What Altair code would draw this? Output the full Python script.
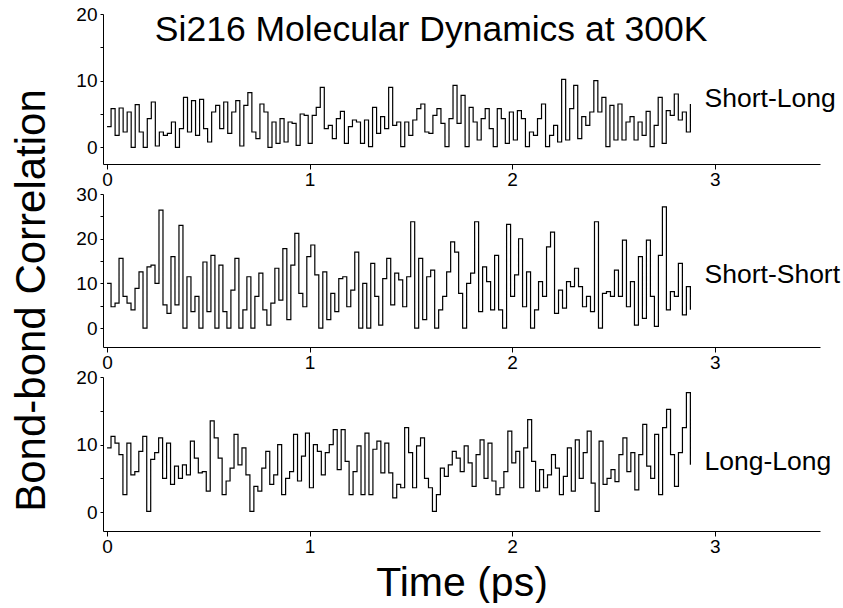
import altair as alt
import numpy as np
import pandas as pd

# ---------------- data ----------------
short_long = [3.1, 5.8, 1.8, 5.9, 2.3, 5.3, 0.0, 6.4, 2.3, 0.0, 4.3, 6.8, 0.2, 2.3, 1.8, 2.1, 3.8, 0.0, 2.8, 7.5,
              2.3, 7.0, 1.8, 7.2, 2.8, 0.8, 5.3, 6.3, 2.8, 6.8, 2.1, 5.3, 7.0, 0.2, 6.3, 8.2, 2.3,
              1.3, 6.5, 5.3, 0.0, 3.8, 0.6, 4.3, 0.8, 3.8, 3.6, 0.3, 5.0, 4.8, 0.6, 4.8, 6.0, 9.0, 2.8, 3.3, 1.3,
              4.3, 5.4, 0.6, 3.1, 4.1, 3.8, 0.6, 4.1, 0.1, 6.0, 2.1, 4.6, 2.8, 9.0, 3.3, 3.8,
              0.1, 3.8, 1.8, 4.1, 5.8, 6.5, 2.3, 2.1, 4.8, 5.8, 3.6, 0.1, 4.3, 9.3, 3.6, 7.8, 0.1, 6.0, 3.8, 1.1,
              4.3, 5.8, 2.8, 0.1, 5.8, 4.3, 0.6, 5.3, 1.1, 5.5, 4.3, 0.1, 2.3, 1.8, 4.3, 6.5, 0.1,
              1.8, 3.3, 0.8, 10.2, 1.1, 5.8, 9.3, 1.3, 4.6, 3.3, 5.3, 10.0, 5.3, 7.5, 0.1, 6.3, 1.1, 6.5, 1.1, 3.8,
              4.6, 1.1, 3.8, 1.8, 5.4, 0.1, 3.3, 7.5, 0.6, 5.5, 4.8, 8.0, 4.1, 5.3, 2.3, 6.5]

short_short = [10.0, 4.8, 5.6, 15.6, 7.1, 5.6, 4.1, 8.9, 12.6, 0.0, 13.7, 14.1, 10.0, 26.4, 5.2, 3.3, 16.0, 5.2, 23.0, 0.0,
               11.5, 3.7, 7.1, 0.0, 14.8, 3.7, 16.3, 0.0, 14.1, 3.7, 0.0, 8.5, 15.6, 0.0, 4.1, 11.5, 0.0, 7.1,
               12.3, 4.1, 0.7, 5.6, 13.4, 6.3, 17.8, 1.9, 14.1, 21.2, 7.8, 4.8, 16.0, 18.6, 11.9, 0.0, 12.6, 1.9,
               7.8, 3.7, 11.1, 11.5, 4.8, 8.5, 17.0, 0.0, 10.0, 0.0, 14.5, 7.1, 0.7, 11.1, 15.6, 5.2, 12.3, 10.8,
               4.8, 11.5, 23.8, 0.0, 15.6, 1.9, 11.5, 13.0, 0.0, 4.1, 7.1, 12.6, 19.3, 17.0, 7.8, 0.0, 10.0, 12.3,
               23.8, 3.7, 13.7, 10.4, 4.1, 16.3, 4.1, 0.0, 23.2, 7.1, 11.9, 20.0, 4.8, 12.6, 0.0, 4.1, 10.4, 7.1, 18.2,
               21.5, 3.3, 8.5, 4.5, 10.4, 9.3, 13.4, 9.3, 4.8, 7.1, 3.7, 23.8, 0.0, 7.8, 8.2, 7.1, 13.0, 7.1, 19.7,
               4.8, 10.4, 0.7, 16.0, 2.2, 19.7, 7.1, 0.4, 16.3, 27.1, 4.1, 8.2, 7.1, 14.5, 3.0, 9.3, 4.1]

long_long = [9.5, 11.2, 10.2, 8.5, 2.6, 10.2, 5.5, 6.0, 9.0, 11.2, 0.1, 7.8, 8.8, 11.0, 5.0, 10.2, 4.1, 6.8, 5.0, 7.0,
             5.5, 10.5, 8.0, 5.8, 6.0, 3.1, 13.5, 11.0, 8.0, 2.6, 4.6, 6.5, 11.5, 7.0, 9.5, 5.5, 0.1, 3.8,
             3.1, 6.5, 9.0, 4.1, 5.5, 10.0, 2.6, 5.0, 6.0, 11.5, 4.6, 8.3, 11.7, 3.6, 10.0, 9.0, 5.5, 8.8, 10.0,
             12.2, 6.3, 12.2, 7.5, 2.6, 6.0, 9.8, 2.6, 11.7, 2.6, 9.3, 10.5, 5.8, 10.2, 5.8, 2.1, 4.1,
             3.6, 12.5, 8.8, 3.6, 9.8, 11.0, 5.0, 3.6, 0.1, 2.6, 6.5, 5.3, 7.0, 9.0, 8.0, 6.0, 9.8, 7.3, 3.8,
             8.5, 10.7, 5.0, 10.2, 4.6, 2.6, 3.6, 6.0, 12.0, 7.3, 9.0, 3.6, 9.5, 13.7, 7.5, 3.1, 6.3, 3.6,
             5.5, 8.5, 6.5, 2.6, 5.3, 9.5, 3.1, 10.7, 5.0, 8.8, 12.0, 4.3, 0.1, 10.5, 4.1, 5.0, 6.3, 4.5, 8.5,
             11.0, 6.0, 8.8, 3.3, 8.5, 13.0, 6.8, 5.0, 11.5, 2.6, 12.5, 15.2, 8.5, 3.8, 8.8, 12.5, 17.7, 7.0]

panel_labels = ["Short-Long", "Short-Short", "Long-Long"]
chart_title = "Si216 Molecular Dynamics at 300K"
x_title = "Time (ps)"
y_title = "Bond-bond Correlation"
x_ticks = [0, 1, 2, 3]
t_end = 2.88  # ps, last sample time

# ---------------- styling ----------------
FONT = "Liberation Sans"
X_DOMAIN = [-0.02, 3.52]
W = 717
MAJOR_ONLY = "datum.value % 10 == 0 ? datum.label : ''"


def make_panel(values, label, label_v, y_domain, y_ticks, height,
               y_axis_title=None, x_axis_title=None, title_text=None):
    df = pd.DataFrame({"t": np.linspace(0, t_end, len(values)), "v": values})

    x_axis_kw = dict(values=x_ticks, format="d", grid=False, domainColor="black", tickColor="black",
                     labelColor="black", labelFont=FONT, labelFontSize=19, tickSize=5, labelPadding=1,
                     domainWidth=1, labelFlush=False)
    if x_axis_title:
        x_axis = alt.Axis(title=x_axis_title, titleFont=FONT, titleFontSize=41, titleFontWeight="normal",
                          titleColor="black", titleBaseline="alphabetic", titleY=64, **x_axis_kw)
    else:
        x_axis = alt.Axis(title=None, **x_axis_kw)

    y_axis_kw = dict(values=y_ticks, labelExpr=MAJOR_ONLY, grid=False, domainColor="black",
                     tickColor="black", labelColor="black", labelFont=FONT, labelFontSize=19, tickSize=3,
                     labelPadding=3, domainWidth=1, labelFlush=False)
    if y_axis_title:
        y_axis = alt.Axis(title=y_axis_title, titleFont=FONT, titleFontSize=42, titleFontWeight="normal",
                          titleColor="black", titleAngle=270, titleAlign="center",
                          titleBaseline="alphabetic", titleX=-59, titleY=106, **y_axis_kw)
    else:
        y_axis = alt.Axis(title=None, **y_axis_kw)

    x_enc = alt.X("t:Q", scale=alt.Scale(domain=X_DOMAIN, nice=False, zero=False), axis=x_axis)
    y_enc = alt.Y("v:Q", scale=alt.Scale(domain=y_domain, nice=False, zero=False), axis=y_axis)

    line = alt.Chart(df).mark_line(interpolate="step-after", color="black", strokeWidth=1.2).encode(
        x=x_enc, y=y_enc)

    lab_df = pd.DataFrame({"t": [2.95], "v": [label_v], "s": [label]})
    lab = alt.Chart(lab_df).mark_text(align="left", baseline="middle", font=FONT, fontSize=26.5,
                                      color="black").encode(x=x_enc, y=y_enc, text="s:N")
    layers = [line, lab]
    if title_text:
        tdf = pd.DataFrame({"t": [1.60], "v": [17.6], "s": [title_text]})
        layers.append(alt.Chart(tdf).mark_text(align="center", baseline="middle", font=FONT, fontSize=35.5,
                                               color="black").encode(x=x_enc, y=y_enc, text="s:N"))
    return alt.layer(*layers).properties(width=W, height=height)


p1 = make_panel(short_long, panel_labels[0], 7.2, [-2.5, 20], [0, 5, 10, 15, 20], 150, title_text=chart_title)
p2 = make_panel(short_short, panel_labels[1], 11.9, [-4.2, 30], [0, 5, 10, 15, 20, 25, 30], 153,
                y_axis_title=y_title)
p3 = make_panel(long_long, panel_labels[2], 7.4, [-2.8, 20], [0, 5, 10, 15, 20], 154, x_axis_title=x_title)

chart = alt.vconcat(p1, p2, p3, spacing=30, bounds="flush").properties(
    padding={"left": 9, "top": 5, "right": 0, "bottom": 0}
).configure_view(stroke=None)

chart.save("out.html", embed_options={"renderer": "svg", "actions": False})
